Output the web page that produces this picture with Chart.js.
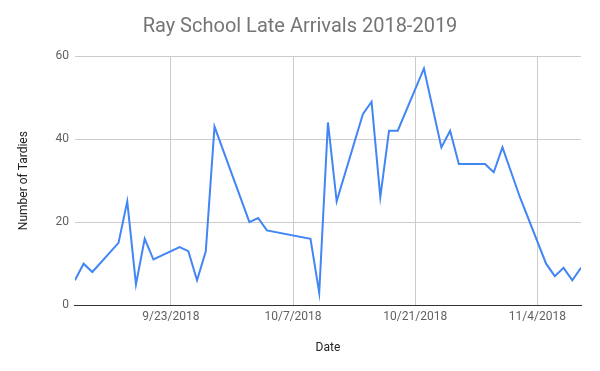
<!DOCTYPE html>
<html>
<head>
<meta charset="utf-8">
<title>Ray School Late Arrivals 2018-2019</title>
<script src="https://cdn.jsdelivr.net/npm/chart.js@4"></script>
<style>
  html, body { margin: 0; padding: 0; background: #fff; }
  #chart { display: block; }
</style>
</head>
<body>
<canvas id="chart" width="600" height="371"></canvas>
<script>
// school days (m/d, 2018) and late arrivals on each
const dates = [
  "9/12", "9/13", "9/14", "9/17", "9/18", "9/19", "9/20", "9/21",
  "9/24", "9/25", "9/26", "9/27", "9/28", "10/2", "10/3", "10/4",
  "10/9", "10/10", "10/11", "10/12", "10/15", "10/16", "10/17", "10/18",
  "10/19", "10/22", "10/24", "10/25", "10/26", "10/29", "10/30", "10/31",
  "11/1", "11/2", "11/5", "11/6", "11/7", "11/8", "11/9"
];
const tardies = [
  6, 10, 8, 15, 25, 5, 16, 11,
  14, 13, 6, 13, 43, 20, 21, 18,
  16, 3, 44, 25, 46, 49, 26, 42,
  42, 57, 38, 42, 34, 34, 32, 38,
  32, 26, 10, 7, 9, 6, 9
];
const xTickLabels = ["9/23/2018", "10/7/2018", "10/21/2018", "11/4/2018"];
const yTicks = [0, 20, 40, 60];

// turn "m/d" or "m/d/yyyy" into a day number
const toDay = (s) => {
  const [m, d, y] = s.split("/").map(Number);
  return Date.UTC(y || 2018, m - 1, d) / 86400000;
};

const points = dates.map((d, i) => ({ x: toDay(d), y: tardies[i] }));
const tickDays = xTickLabels.map(toDay);

const ctx = document.getElementById("chart").getContext("2d");
new Chart(ctx, {
  type: "line",
  data: {
    datasets: [
      {
        label: "Late Arrivals",
        data: points,
        borderColor: "#4285f4",
        borderWidth: 2,
        pointRadius: 0,
        tension: 0,
        fill: false,
      },
    ],
  },
  options: {
    responsive: false,
    animation: false,
    layout: { padding: { left: 19, right: 19, top: 0, bottom: 0 } },
    plugins: {
      legend: { display: false },
      tooltip: { enabled: false },
      title: {
        display: true,
        text: "Ray School Late Arrivals 2018-2019",
        color: "#757575",
        font: { family: "Roboto", size: 20, weight: "normal" },
        padding: { top: 15, bottom: 17 },
      },
    },
    scales: {
      x: {
        type: "linear",
        min: toDay(dates[0]),
        max: toDay(dates[dates.length - 1]),
        afterBuildTicks: (axis) => {
          axis.ticks = tickDays.map((v) => ({ value: v }));
        },
        ticks: {
          autoSkip: false,
          maxRotation: 0,
          padding: 5,
          color: "#616161",
          font: { family: "Roboto", size: 12 },
          callback: (value) => xTickLabels[tickDays.indexOf(value)],
        },
        grid: { color: "#cccccc", drawTicks: false },
        border: { color: "#333333", width: 1 },
        title: {
          display: true,
          text: "Date",
          color: "#222222",
          font: { family: "Roboto", size: 12 },
          padding: { top: 11, bottom: 16 },
        },
      },
      y: {
        min: 0,
        max: 60,
        afterBuildTicks: (axis) => {
          axis.ticks = yTicks.map((v) => ({ value: v }));
        },
        ticks: {
          padding: 6,
          color: "#616161",
          font: { family: "Roboto", size: 12 },
        },
        grid: {
          drawTicks: false,
          color: (c) => (c.tick && c.tick.value === 0 ? "#333333" : "#cccccc"),
        },
        border: { display: false },
        title: {
          display: true,
          text: "Number of Tardies",
          color: "#222222",
          font: { family: "Roboto", size: 12 },
          padding: { top: -2, bottom: 18 },
        },
      },
    },
  },
});
</script>
</body>
</html>
